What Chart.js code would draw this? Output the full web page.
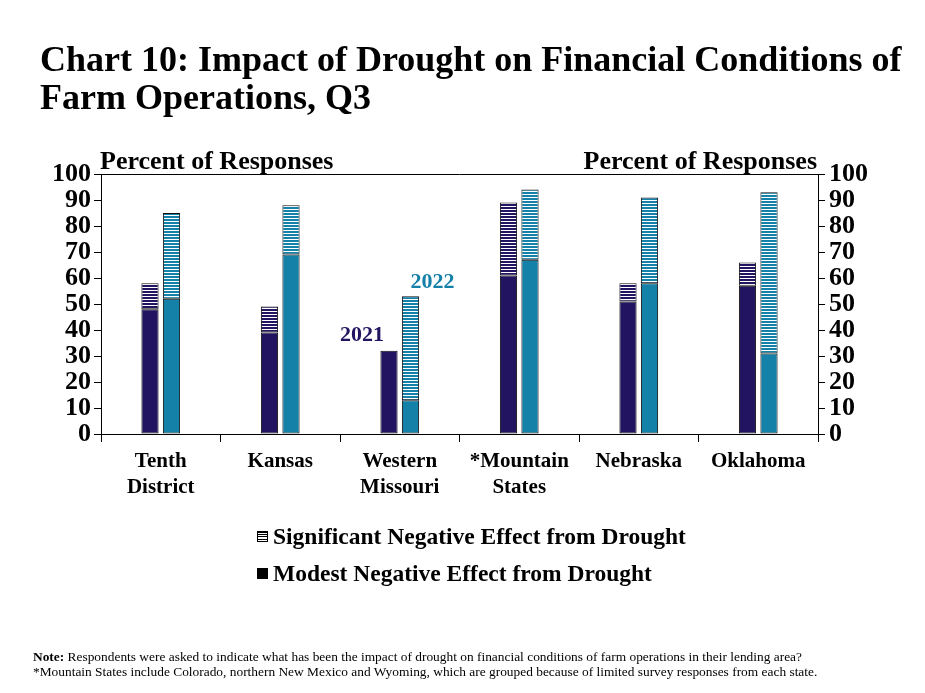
<!DOCTYPE html>
<html lang="en">
  <head>
    <meta charset="UTF-8" />
    <title>Chart 10</title>
    <script src="https://cdn.jsdelivr.net/npm/chart.js"></script>
    <style>
      body {
        margin: 0;
        width: 925px;
        height: 693px;
        position: relative;
        background: #ffffff;
        font-family: "Liberation Serif", "Times New Roman", serif;
        color: #000;
        overflow: hidden;
      }
      #chartBox {
        position: absolute;
        left: 0;
        top: 0;
        width: 925px;
        height: 693px;
      }
      .title {
        position: absolute;
        left: 40px;
        top: 40px;
        font-size: 36px;
        font-weight: bold;
        line-height: 38px;
        white-space: nowrap;
      }
      .unit {
        position: absolute;
        top: 148px;
        font-size: 26px;
        font-weight: bold;
        line-height: 26px;
        white-space: nowrap;
      }
      .legend-row {
        position: absolute;
        left: 257px;
        height: 30px;
        display: flex;
        align-items: center;
        font-size: 23.5px;
        font-weight: bold;
        white-space: nowrap;
      }
      .swatch {
        width: 11px;
        height: 11px;
        margin-right: 5px;
        box-sizing: border-box;
      }
      .note {
        position: absolute;
        left: 33px;
        top: 649px;
        font-size: 13.4px;
        line-height: 15px;
        white-space: nowrap;
      }
    </style>
  </head>
  <body>
    <div id="chartBox"><canvas id="drought" width="925" height="693"></canvas></div>

    <div class="title">
      Chart 10: Impact of Drought on Financial Conditions of<br />Farm
      Operations, Q3
    </div>
    <div class="unit" style="left: 100px">Percent of Responses</div>
    <div class="unit" style="right: 108px">Percent of Responses</div>

    <div id="legend"></div>

    <div class="note">
      <b>Note:</b> Respondents were asked to indicate what has been the impact
      of drought on financial conditions of farm operations in their lending
      area?<br />*Mountain States include Colorado, northern New Mexico and
      Wyoming, which are grouped because of limited survey responses from each
      state.
    </div>

    <script>
      // values
      const categories = [
        ["Tenth", "District"],
        ["Kansas"],
        ["Western", "Missouri"],
        ["*Mountain", "States"],
        ["Nebraska"],
        ["Oklahoma"],
      ];
      const modest2021 = [48, 39, 32, 61, 51, 57];
      const significant2021 = [10, 10, 0, 28, 7, 9];
      const modest2022 = [52, 69, 13, 67, 58, 31];
      const significant2022 = [33, 19, 40, 27, 33, 62];
      const yTicks = [0, 10, 20, 30, 40, 50, 60, 70, 80, 90, 100];
      const legendLabels = [
        "Significant Negative Effect from Drought",
        "Modest Negative Effect from Drought",
      ];

      const navy = "#221460";
      const teal = "#1481a9";
      const edge = "#111111";
      const fontFamily = "'Liberation Serif', 'Times New Roman', serif";

      // horizontal stripes for the "significant" part of each bar
      function stripes(color) {
        const c = document.createElement("canvas");
        c.width = 4;
        c.height = 3;
        const g = c.getContext("2d");
        g.fillStyle = "#ffffff";
        g.fillRect(0, 0, 4, 3);
        g.fillStyle = color;
        g.fillRect(0, 0, 4, 2);
        return g.createPattern(c, "repeat");
      }

      // html legend, black markers like the original
      const legendEl = document.getElementById("legend");
      legendLabels.forEach((label, i) => {
        const row = document.createElement("div");
        row.className = "legend-row";
        row.style.top = i === 0 ? "521px" : "558px";
        const sw = document.createElement("span");
        sw.className = "swatch";
        if (i === 0) {
          sw.style.border = "1px solid #000";
          sw.style.background =
            "repeating-linear-gradient(#000 0 1px, #fff 1px 2.2px)";
        } else {
          sw.style.background = "#000";
        }
        row.appendChild(sw);
        row.appendChild(document.createTextNode(label));
        legendEl.appendChild(row);
      });

      const extras = {
        id: "extras",
        afterDatasetsDraw(chart) {
          const { ctx, chartArea } = chart;
          ctx.save();
          // top frame line
          ctx.strokeStyle = "#000";
          ctx.lineWidth = 1;
          ctx.beginPath();
          ctx.moveTo(chartArea.left, chartArea.top + 0.5);
          ctx.lineTo(chartArea.right, chartArea.top + 0.5);
          ctx.stroke();

          // year call-outs above the Western Missouri bars
          const idx = 2;
          const bar21 = chart.getDatasetMeta(1).data[idx];
          const bar22 = chart.getDatasetMeta(3).data[idx];
          ctx.font = "bold 22px " + fontFamily;
          ctx.textAlign = "center";
          ctx.textBaseline = "middle";
          ctx.fillStyle = navy;
          ctx.fillText("2021", bar21.x - 27, bar21.y - 15);
          ctx.fillStyle = teal;
          ctx.fillText("2022", bar22.x + 22, bar22.y - 14);
          ctx.restore();
        },
      };

      const tickFont = { family: fontFamily, size: 26, weight: "bold", lineHeight: 1 };

      function barSet(label, data, stack, fill) {
        return {
          label: label,
          data: data,
          stack: stack,
          backgroundColor: fill,
          borderColor: edge,
          borderWidth: 1,
          borderSkipped: false,
        };
      }

      new Chart(document.getElementById("drought"), {
        type: "bar",
        data: {
          labels: categories,
          datasets: [
            barSet("Modest 2021", modest2021, "2021", navy),
            barSet("Significant 2021", significant2021, "2021", stripes(navy)),
            barSet("Modest 2022", modest2022, "2022", teal),
            barSet("Significant 2022", significant2022, "2022", stripes(teal)),
          ],
        },
        options: {
          responsive: false,
          animation: false,
          devicePixelRatio: 1,
          categoryPercentage: 0.36,
          barPercentage: 0.8,
          layout: { padding: { top: 174, left: 0, right: 0, bottom: 0 } },
          plugins: {
            legend: { display: false },
            tooltip: { enabled: false },
          },
          scales: {
            x: {
              stacked: true,
              afterFit: (s) => {
                s.height = 259;
              },
              grid: {
                offset: true,
                drawOnChartArea: false,
                color: "#000",
                tickLength: 8,
              },
              border: { color: "#000", width: 1 },
              ticks: {
                color: "#000",
                padding: 6,
                maxRotation: 0,
                autoSkip: false,
                font: { family: fontFamily, size: 21, weight: "bold", lineHeight: 1.25 },
              },
            },
            y: {
              stacked: true,
              position: "left",
              min: 0,
              max: 100,
              afterFit: (s) => {
                s.width = 101;
              },
              afterBuildTicks: (s) => {
                s.ticks = yTicks.map((v) => ({ value: v }));
              },
              grid: {
                drawOnChartArea: false,
                color: "#000",
                tickLength: 7,
              },
              border: { color: "#000", width: 1 },
              ticks: { color: "#000", padding: 3, autoSkip: false, font: tickFont },
            },
            y2: {
              position: "right",
              min: 0,
              max: 100,
              afterFit: (s) => {
                s.width = 107;
              },
              afterBuildTicks: (s) => {
                s.ticks = yTicks.map((v) => ({ value: v }));
              },
              grid: {
                drawOnChartArea: false,
                color: "#000",
                tickLength: 7,
              },
              border: { color: "#000", width: 1 },
              ticks: { color: "#000", padding: 4, autoSkip: false, font: tickFont },
            },
          },
        },
        plugins: [extras],
      });
    </script>
  </body>
</html>
